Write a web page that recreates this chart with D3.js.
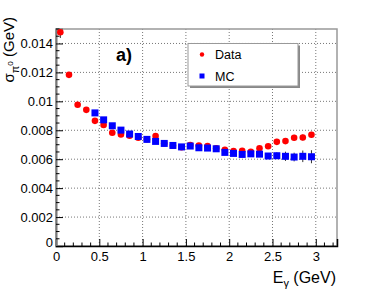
<!DOCTYPE html>
<html><head><meta charset="utf-8">
<script src="https://cdn.jsdelivr.net/npm/d3@7"></script>
<style>body{margin:0;background:#fff}svg{display:block}text{font-family:"Liberation Sans",Arial,sans-serif}</style>
</head><body><svg id="c" width="374" height="290"></svg>
<script>
const dataX = [0.05,0.15,0.25,0.35,0.45,0.55,0.65,0.75,0.85,0.95,1.05,1.15,1.25,1.35,1.45,1.55,1.65,1.75,1.85,1.95,2.05,2.15,2.25,2.35,2.45,2.55,2.65,2.75,2.85,2.95];
const dataY = [0.01478,0.01183,0.00976,0.00941,0.00865,0.00836,0.00783,0.00771,0.00762,0.00748,0.00738,0.0076,0.0071,0.00693,0.00683,0.00698,0.00695,0.00691,0.00676,0.00665,0.00656,0.00658,0.00651,0.00675,0.00689,0.0072,0.00725,0.00748,0.0075,0.00769];
const dataErr = [0.0004,0.0001,0.0001,0.0001,0.0001,0.0001,0.0001,0.0001,0.0001,0.0001,0.0001,0.0001,0.0001,0.0001,0.0001,0.0001,0.0001,0.0001,0.0001,0.0001,0.0001,0.0001,0.0001,0.00015,0.00015,0.0002,0.0002,0.0002,0.0002,0.0002];
const mcX = [0.45,0.55,0.65,0.75,0.85,0.95,1.05,1.15,1.25,1.35,1.45,1.55,1.65,1.75,1.85,1.95,2.05,2.15,2.25,2.35,2.45,2.55,2.65,2.75,2.85,2.95];
const mcY = [0.0092,0.00872,0.00831,0.00801,0.00774,0.00757,0.00737,0.00723,0.00709,0.00695,0.00685,0.00691,0.00679,0.00677,0.00672,0.00647,0.0064,0.00633,0.00637,0.00635,0.00622,0.00624,0.0062,0.00615,0.0062,0.00617];
const mcErr = [0.0001,0.0001,0.0001,0.0001,0.0001,0.0001,0.0001,0.0001,0.0001,0.0001,0.0001,0.0001,0.0001,0.0001,0.0001,0.00012,0.00012,0.00012,0.00012,0.00015,0.0002,0.00023,0.00032,0.0003,0.0004,0.00045];
const xTicks = [0,0.5,1,1.5,2,2.5,3];
const yTicks = [0,0.002,0.004,0.006,0.008,0.01,0.012,0.014];
const legendLabels = ["Data","MC"];

const svg = d3.select("#c");
const L=56,R=337,T=29,B=246;
const x = d3.scaleLinear().domain([0,3.245]).range([L,R]);
const y = d3.scaleLinear().domain([0,0.015]).range([B,T]);

// grid
const g = svg.append("g");
g.selectAll(".gx").data(xTicks.filter(d=>d>0)).enter().append("line")
 .attr("x1",d=>x(d)).attr("x2",d=>x(d)).attr("y1",T).attr("y2",B)
 .attr("stroke","#777").attr("stroke-dasharray","1,2").attr("stroke-width",1);
g.selectAll(".gy").data(yTicks.filter(d=>d>0)).enter().append("line")
 .attr("x1",L).attr("x2",R).attr("y1",d=>y(d)).attr("y2",d=>y(d))
 .attr("stroke","#777").attr("stroke-dasharray","1,2").attr("stroke-width",1);

// frame
svg.append("rect").attr("x",L).attr("y",T).attr("width",R-L).attr("height",B-T)
 .attr("fill","none").attr("stroke","#999").attr("stroke-width",1.5);

// x axis (ticks inside)
const xAxis = d3.axisBottom(x).tickValues(xTicks).tickSize(-7).tickPadding(6).tickFormat(d3.format("~g"));
const xa = svg.append("g").attr("transform",`translate(0,${B})`).call(xAxis);
xa.select(".domain").attr("stroke","#000").attr("stroke-width",1.5);
xa.selectAll("text").attr("font-size",13).attr("fill","#000");
xa.selectAll(".tick line").attr("stroke","#000");
const xMinor = d3.range(0,3.25,0.1).filter(v=>Math.abs(v*2-Math.round(v*2))>1e-6);
svg.append("g").selectAll("line").data(xMinor).enter().append("line")
 .attr("x1",d=>x(d)).attr("x2",d=>x(d)).attr("y1",B).attr("y2",B-3.5).attr("stroke","#000");

// y axis
const yAxis = d3.axisLeft(y).tickValues(yTicks).tickSize(-7).tickPadding(3).tickFormat(d3.format("~g"));
const ya = svg.append("g").attr("transform",`translate(${L},0)`).call(yAxis);
ya.select(".domain").attr("stroke","#777").attr("stroke-width",2);
ya.selectAll("text").attr("font-size",13).attr("fill","#000");
ya.selectAll(".tick line").attr("stroke","#000");
const yMinor = d3.range(0,0.0151,0.0005).filter(v=>Math.abs(v/0.002-Math.round(v/0.002))>1e-6);
svg.append("g").selectAll("line").data(yMinor).enter().append("line")
 .attr("x1",L).attr("x2",L+3.5).attr("y1",d=>y(d)).attr("y2",d=>y(d)).attr("stroke","#000");

// nudge y "0" label
ya.selectAll(".tick").filter(d=>d===0).select("text").attr("dy","0.05em");

// error bars
const data = dataX.map((d,i)=>({x:d,y:dataY[i],e:dataErr[i]}));
const mc = mcX.map((d,i)=>({x:d,y:mcY[i],e:mcErr[i]}));
const eb = svg.append("g");
eb.selectAll(".ed").data(data).enter().append("line")
 .attr("x1",d=>x(d.x)).attr("x2",d=>x(d.x)).attr("y1",d=>Math.max(T,y(d.y+d.e))).attr("y2",d=>y(d.y-d.e))
 .attr("stroke","#333").attr("stroke-width",1);
eb.selectAll(".em").data(mc).enter().append("line")
 .attr("x1",d=>x(d.x)).attr("x2",d=>x(d.x)).attr("y1",d=>y(d.y+d.e)).attr("y2",d=>y(d.y-d.e))
 .attr("stroke","#333").attr("stroke-width",1);

// markers
svg.append("g").selectAll("circle").data(data).enter().append("circle")
 .attr("cx",d=>x(d.x)).attr("cy",d=>y(d.y)).attr("r",3.3).attr("fill","#ff0000");
svg.append("g").selectAll("rect").data(mc).enter().append("rect")
 .attr("x",d=>x(d.x)-3.5).attr("y",d=>y(d.y)-3.5).attr("width",7).attr("height",7).attr("fill","#0000ff");

// label a)
svg.append("text").attr("x",116).attr("y",61).attr("font-size",18).attr("font-weight","bold").text("a)");

// legend
const lg = svg.append("g");
lg.append("rect").attr("x",190).attr("y",45.5).attr("width",110).attr("height",42.5).attr("fill","#888");
lg.append("rect").attr("x",188).attr("y",43.5).attr("width",110).attr("height",42.5).attr("fill","#fff").attr("stroke","#999").attr("stroke-width",1);
lg.append("circle").attr("cx",202).attr("cy",54.5).attr("r",2.2).attr("fill","#ff0000");
lg.append("rect").attr("x",199.5).attr("y",73.5).attr("width",5).attr("height",5).attr("fill","#0000ff");
lg.selectAll("text").data(legendLabels).enter().append("text")
 .attr("x",215).attr("y",(d,i)=>59+i*21.5).attr("font-size",12.5).text(d=>d);

// axis titles
const xt = svg.append("text").attr("x",336).attr("y",283).attr("text-anchor","end").attr("font-size",16);
xt.append("tspan").text("E");
xt.append("tspan").attr("font-size",11).attr("dy",4).text("γ");
xt.append("tspan").attr("dy",-4).text(" (GeV)");

const yt = svg.append("text").attr("transform","translate(13.5,17) rotate(-90)").attr("text-anchor","end").attr("font-size",15);
yt.append("tspan").text("σ");
yt.append("tspan").attr("font-size",11).attr("dy",5).text("π");
yt.append("tspan").attr("font-size",8).attr("dy",-6).text("0");
yt.append("tspan").attr("dy",1).text(" (GeV)");
</script></body></html>
